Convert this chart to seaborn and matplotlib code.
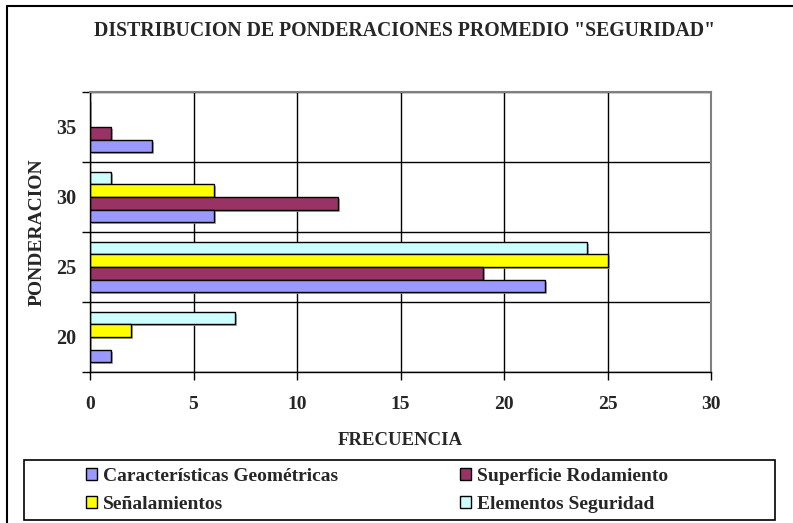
import pandas as pd
import matplotlib.pyplot as plt
import matplotlib.patheffects as pe
from matplotlib.patches import Patch, Rectangle
from matplotlib.lines import Line2D
import seaborn as sns

# Data
ponderacion = ['20', '25', '30', '35']
car_geo = [1, 22, 6, 3]
sup_rod = [0, 19, 12, 1]
senal = [2, 25, 6, 0]
elem_seg = [7, 24, 1, 0]

series_names = ['Características Geométricas', 'Superficie Rodamiento',
                'Señalamientos', 'Elementos Seguridad']
series_vals = [car_geo, sup_rod, senal, elem_seg]
colors = ['#9999FF', '#993366', '#FFFF00', '#CCFFFF']

rows = []
for name, vals in zip(series_names, series_vals):
    for p, v in zip(ponderacion, vals):
        rows.append({'Ponderacion': p, 'Frecuencia': v, 'Serie': name})
df = pd.DataFrame(rows)

sns.set_theme(style='white')
plt.rcParams['font.family'] = ['Liberation Serif', 'DejaVu Serif']
plt.rcParams['font.weight'] = 'bold'

W, H = 793, 523
fig = plt.figure(figsize=(7.93, 5.23), dpi=100)
ax = fig.add_axes([90 / W, 1 - 372 / H, (711 - 90) / W, (372 - 92) / H])

# seaborn puts the first category on top, so reverse the orders
sns.barplot(data=df, x='Frecuencia', y='Ponderacion', hue='Serie',
            order=ponderacion[::-1], hue_order=series_names[::-1],
            palette=dict(zip(series_names, colors)), saturation=1, orient='h',
            width=0.72, edgecolor='black', linewidth=1, legend=False, ax=ax)

for bar in ax.patches:
    bar.set_path_effects([pe.SimplePatchShadow(offset=(1.5, -1.5), shadow_rgbFace='#999999', alpha=0.8),
                          pe.Normal()])

ax.set_xlim(0, 30)
ax.set_xticks(range(0, 31, 5))
ax.set_yticks(range(len(ponderacion)))
ax.set_yticks([i - 0.5 for i in range(len(ponderacion) + 1)], minor=True)
ax.tick_params(axis='y', which='major', length=0, pad=10, labelsize=14.5)
ax.tick_params(axis='y', which='minor', length=6, width=1, color='black', direction='out', left=True)
ax.tick_params(axis='x', which='major', length=6, width=1, color='black', direction='out',
               bottom=True, pad=11, labelsize=14)
for lab in ax.get_xticklabels() + ax.get_yticklabels():
    lab.set_fontweight('bold')

ax.grid(axis='x', which='major', color='black', linewidth=1)
ax.grid(axis='y', which='minor', color='black', linewidth=1)
ax.grid(axis='y', which='major', visible=False)
ax.set_axisbelow(True)

for side in ['left', 'bottom']:
    ax.spines[side].set_color('black')
    ax.spines[side].set_linewidth(1)
for side in ['top', 'right']:
    ax.spines[side].set_color('#808080')
    ax.spines[side].set_linewidth(1.5)

ax.set_xlabel('FRECUENCIA', fontsize=13.5, fontweight='bold', labelpad=14)
ax.set_ylabel('PONDERACION', fontsize=14, fontweight='bold', labelpad=7)

fig.text(405 / W, 1 - 31 / H, 'DISTRIBUCION DE PONDERACIONES PROMEDIO "SEGURIDAD"',
         ha='center', va='center', fontsize=14.2, fontweight='bold')

# legend: rows CG | SR, S | ES
handles = [Patch(facecolor=c, edgecolor='black', linewidth=1) for c in colors]
order = [0, 2, 1, 3]
leg = fig.legend([handles[i] for i in order], [series_names[i] for i in order],
                 ncol=2, loc='upper left', bbox_to_anchor=(86 / W, 1 - 468 / H),
                 frameon=False, prop={'weight': 'bold', 'size': 14},
                 handlelength=0.55, handleheight=0.55, handletextpad=0.3,
                 columnspacing=6.3, labelspacing=0.57, borderpad=0.0, borderaxespad=0)

# legend box and outer chart border (left and top only)
fig.patches.append(Rectangle((24 / W, 1 - 520 / H), (775 - 24) / W, 60 / H, transform=fig.transFigure,
                             fill=False, edgecolor='black', linewidth=1.2))
fig.lines.append(Line2D([7 / W, 7 / W], [0, 1 - 6 / H], transform=fig.transFigure,
                        color='black', linewidth=1.5))
fig.lines.append(Line2D([7 / W, 1], [1 - 6 / H, 1 - 6 / H], transform=fig.transFigure,
                        color='black', linewidth=1.5))

fig.savefig('out.png', dpi=100)
